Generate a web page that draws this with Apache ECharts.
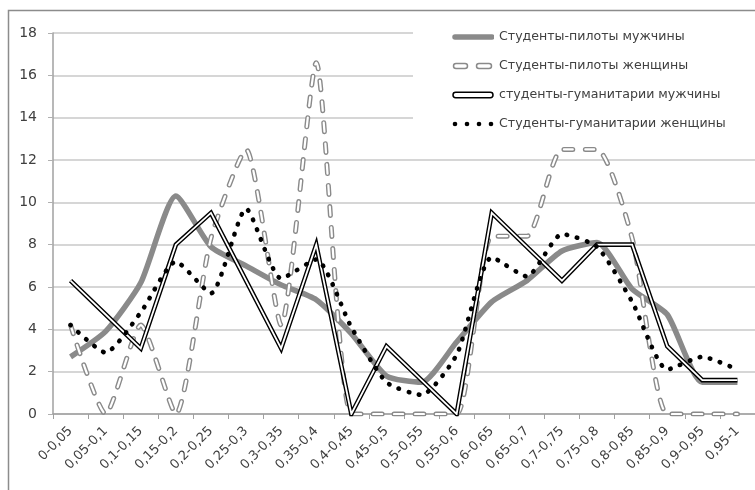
<!DOCTYPE html>
<html>
<head>
<meta charset="utf-8">
<script src="https://cdn.jsdelivr.net/npm/echarts@6/dist/echarts.min.js"></script>
<style>
  html, body { margin: 0; padding: 0; background: #fff; }
  #chart { width: 755px; height: 490px; }
</style>
</head>
<body>
<div id="chart"></div>
<script>
// интервалы (категории оси X)
var categories = ['0-0,05', '0,05-0,1', '0,1-0,15', '0,15-0,2', '0,2-0,25', '0,25-0,3', '0,3-0,35',
    '0,35-0,4', '0,4-0,45', '0,45-0,5', '0,5-0,55', '0,55-0,6', '0,6-0,65', '0,65-0,7',
    '0,7-0,75', '0,75-0,8', '0,8-0,85', '0,85-0,9', '0,9-0,95', '0,95-1'];

var seriesNames = ['Студенты-пилоты мужчины', 'Студенты-пилоты женщины',
    'студенты-гуманитарии мужчины', 'Студенты-гуманитарии женщины'];

var pilotsMale = [2.7, 3.9, 6.2, 10.3, 7.9, 7.0, 6.1, 5.4, 3.8, 1.8, 1.5, 3.4, 5.3, 6.3, 7.7, 8.1, 5.9, 4.7, 1.5, 1.5];
var pilotsFemale = [4.2, 0, 4.2, 0, 8.3, 12.5, 4.2, 16.6, 0, 0, 0, 0, 8.4, 8.4, 12.5, 12.5, 8.3, 0, 0, 0];
var humMale = [6.3, 4.7, 3.1, 8.0, 9.5, 6.3, 3.1, 8.0, 0, 3.2, 1.6, 0, 9.5, 7.9, 6.3, 8.0, 8.0, 3.2, 1.6, 1.6];
var humFemale = [4.2, 2.9, 4.8, 7.2, 5.7, 9.7, 6.4, 7.3, 4.1, 1.5, 0.9, 2.8, 7.4, 6.5, 8.5, 7.9, 5.3, 2.1, 2.7, 2.1];

var yTicks = { min: 0, max: 18, interval: 2 };

var GRAY = '#8a8a8a';
var FONT = 'DejaVu Sans';
var SMOOTH = 0.2;

function svgIcon(body) {
    var svg = '<svg xmlns="http://www.w3.org/2000/svg" width="42" height="14" viewBox="0 0 42 14">' + body + '</svg>';
    return 'image://data:image/svg+xml;charset=utf-8,' + encodeURIComponent(svg);
}

var icons = [
    svgIcon('<line x1="3" y1="7" x2="40" y2="7" stroke="' + GRAY + '" stroke-width="5.5" stroke-linecap="round"/>'),
    svgIcon('<rect x="1.5" y="4.5" width="14" height="5" rx="2.5" fill="#fff" stroke="' + GRAY + '" stroke-width="1.5"/>' +
            '<rect x="24.5" y="4.5" width="15" height="5" rx="2.5" fill="#fff" stroke="' + GRAY + '" stroke-width="1.5"/>'),
    svgIcon('<rect x="1" y="4.3" width="40" height="5.4" rx="2.7" fill="#fff" stroke="#000" stroke-width="1.5"/>'),
    svgIcon('<circle cx="3" cy="7" r="2.3" fill="#000"/><circle cx="15" cy="7" r="2.3" fill="#000"/>' +
            '<circle cx="27" cy="7" r="2.3" fill="#000"/><circle cx="39" cy="7" r="2.3" fill="#000"/>')
];

var dom = document.getElementById('chart');
var myChart = echarts.init(dom);

var option = {
    animation: false,
    backgroundColor: '#fff',
    textStyle: { fontFamily: FONT },
    graphic: [{
        type: 'rect',
        z: -1,
        shape: { x: 8.5, y: 10.5, width: 800, height: 520 },
        style: { fill: 'none', stroke: '#8c8c8c', lineWidth: 1.5 }
    }],
    grid: { left: 53, right: -4, top: 33, bottom: 76 },
    legend: {
        orient: 'vertical',
        left: 413,
        top: 22,
        padding: [8, 40, 8, 39],
        backgroundColor: '#fff',
        itemWidth: 42,
        itemHeight: 14,
        itemGap: 15,
        z: 10,
        selectedMode: false,
        textStyle: { fontFamily: FONT, fontSize: 12.6, color: '#404040' },
        data: seriesNames.map(function (n, i) { return { name: n, icon: icons[i] }; })
    },
    xAxis: {
        type: 'category',
        data: categories,
        boundaryGap: true,
        axisLine: { lineStyle: { color: '#a0a0a0', width: 1.5 } },
        axisTick: { show: true, length: 5, lineStyle: { color: '#a0a0a0' } },
        axisLabel: { rotate: 45, interval: 0, fontSize: 13, color: '#404040', margin: 15 },
        splitLine: { show: false }
    },
    yAxis: {
        type: 'value',
        min: yTicks.min,
        max: yTicks.max,
        interval: yTicks.interval,
        axisLine: { show: true, lineStyle: { color: '#a0a0a0', width: 1.5 } },
        axisTick: { show: true, length: 5, lineStyle: { color: '#b0b0b0' } },
        axisLabel: { fontSize: 14, color: '#404040', margin: 16 },
        splitLine: { lineStyle: { color: '#c8c8c8', width: 1.5 } }
    },
    series: [
        {
            name: seriesNames[0], type: 'line', data: pilotsMale, smooth: SMOOTH,
            symbol: 'none', z: 2,
            lineStyle: { color: GRAY, width: 5.5, join: 'round' }
        },
        {
            name: seriesNames[1], type: 'line', data: pilotsFemale, smooth: SMOOTH,
            symbol: 'none', z: 3,
            lineStyle: { color: GRAY, width: 5, type: [9, 12], cap: 'round' }
        },
        {
            name: 'pf-inner', type: 'line', data: pilotsFemale, smooth: SMOOTH,
            symbol: 'none', z: 3,
            lineStyle: { color: '#fff', width: 2.2, type: [9, 12], cap: 'round' }
        },
        {
            name: seriesNames[2], type: 'line', data: humMale, smooth: false,
            symbol: 'none', z: 4,
            lineStyle: { color: '#000', width: 4.6, join: 'miter', miterLimit: 10 }
        },
        {
            name: 'hm-inner', type: 'line', data: humMale, smooth: false,
            symbol: 'none', z: 4,
            lineStyle: { color: '#fff', width: 1.8, join: 'miter', miterLimit: 10 }
        },
        {
            name: seriesNames[3], type: 'line', data: humFemale, smooth: SMOOTH,
            symbol: 'none', z: 5,
            lineStyle: { color: '#000', width: 4.6, type: [0.5, 10], cap: 'round' }
        }
    ]
};

myChart.setOption(option);
</script>
</body>
</html>
